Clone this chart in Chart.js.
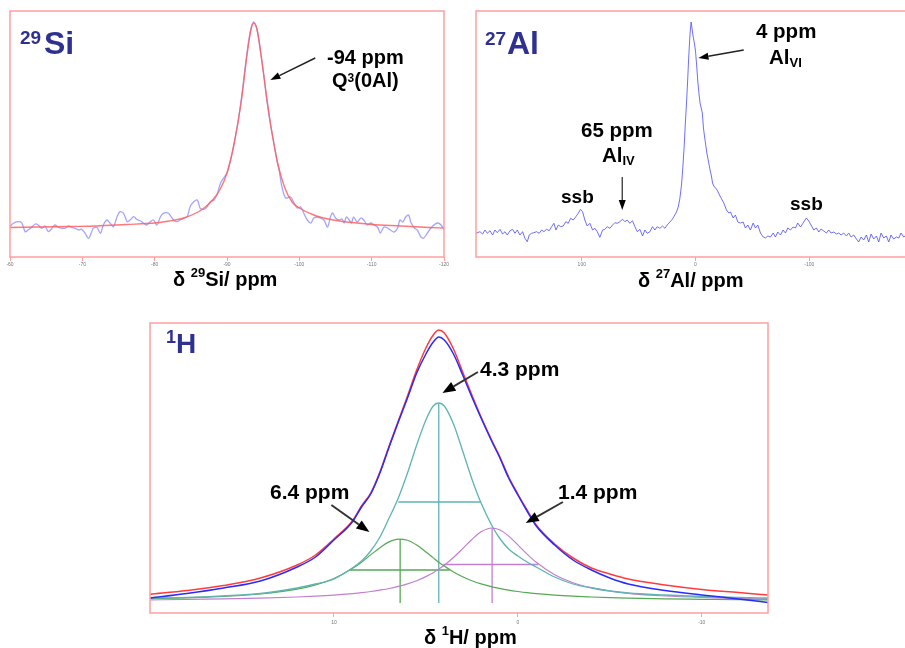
<!DOCTYPE html>
<html>
<head>
<meta charset="utf-8">
<script src="https://cdn.jsdelivr.net/npm/chart.js@4.4.1/dist/chart.umd.min.js"></script>
<style>
  html, body { margin: 0; padding: 0; background: #fff; }
  body { width: 905px; height: 648px; overflow: hidden; position: relative; }
  canvas { position: absolute; }
  .t { position: absolute; font-family: "Liberation Sans", Arial, sans-serif; font-weight: bold;
       line-height: 1; white-space: nowrap; color: #000; }
  .nuc { color: #2e3192; }
  .sup { font-size: 13px; position: relative; top: -3px; vertical-align: top; }
  .sub { font-size: 13px; position: relative; top: 3px; }
</style>
</head>
<body>
<canvas id="siChart" width="460" height="282" style="left:0;top:0"></canvas>
<canvas id="alChart" width="459" height="282" style="left:466px;top:0"></canvas>
<canvas id="hChart" width="640" height="330" style="left:140px;top:310px"></canvas>

<!-- 29Si panel text -->
<div class="t nuc" style="left:20px;top:28px;font-size:19px">29</div>
<div class="t nuc" style="left:44px;top:27px;font-size:32px">Si</div>
<div class="t" style="left:327px;top:47px;font-size:20px">-94 ppm</div>
<div class="t" style="left:332px;top:70px;font-size:20px">Q<span style="font-size:12px;position:relative;top:2px;vertical-align:top">3</span>(0Al)</div>
<div class="t" style="left:173px;top:269px;font-size:20px">&delta; <span class="sup">29</span>Si/ ppm</div>

<!-- 27Al panel text -->
<div class="t nuc" style="left:485px;top:29px;font-size:19px">27</div>
<div class="t nuc" style="left:507px;top:27px;font-size:32px">Al</div>
<div class="t" style="left:756px;top:21px;font-size:20.5px">4 ppm</div>
<div class="t" style="left:769px;top:47px;font-size:20.5px">Al<span class="sub">VI</span></div>
<div class="t" style="left:581px;top:120px;font-size:20.5px">65 ppm</div>
<div class="t" style="left:602px;top:145px;font-size:20.5px">Al<span class="sub">IV</span></div>
<div class="t" style="left:561px;top:187px;font-size:19px">ssb</div>
<div class="t" style="left:790px;top:194px;font-size:19px">ssb</div>
<div class="t" style="left:638px;top:270px;font-size:20px">&delta; <span class="sup">27</span>Al/ ppm</div>

<!-- 1H panel text -->
<div class="t nuc" style="left:166px;top:328px;font-size:18px">1</div>
<div class="t nuc" style="left:176px;top:330px;font-size:28px">H</div>
<div class="t" style="left:480px;top:358px;font-size:21px">4.3 ppm</div>
<div class="t" style="left:270px;top:481px;font-size:21px">6.4 ppm</div>
<div class="t" style="left:558px;top:481px;font-size:21px">1.4 ppm</div>
<div class="t" style="left:424px;top:627px;font-size:20px">&delta; <span class="sup">1</span>H/ ppm</div>

<script>
// ---- 29Si spectrum (ppm, arbitrary intensity) ----
const siShift = [-60,-60.46,-61.15,-61.6,-62.1,-62.5,-63,-63.5,-63.9,-64.4,
  -64.85,-65.3,-65.8,-66.2,-66.7,-67.2,-67.6,-68.1,-68.5,-69,
  -69.5,-69.9,-70.4,-70.85,-71.3,-71.5,-72,-72.5,-72.9,-73.4,
  -73.85,-74.3,-74.8,-75.2,-75.7,-76.2,-76.6,-77.1,-77.5,-78,
  -78.5,-78.9,-79.4,-79.85,-80.3,-80.8,-81.2,-81.9,-82.6,-83.1,
  -83.5,-84,-84.5,-84.9,-85.4,-85.9,-86.3,-86.8,-87.2,-87.7,
  -88.2,-88.6,-89.1,-89.5,-90,-90.5,-91,-91.5,-92,-92.5,
  -93,-93.4,-93.7,-94.1,-94.5,-95,-95.5,-96,-96.5,-97,
  -97.2,-97.6,-98.1,-98.8,-99.2,-99.7,-100.2,-100.6,-101.1,-101.6,
  -102,-102.5,-102.9,-103.4,-103.9,-104.3,-104.6,-105,-105.5,-105.9,
  -106.2,-106.5,-106.9,-107.2,-107.5,-108,-108.5,-108.9,-109.4,-109.9,
  -110.3,-110.8,-111.2,-111.7,-112.2,-112.6,-113.1,-113.6,-113.9,-114.3,
  -114.7,-115.1,-115.4,-115.9,-116.3,-116.8,-117.2,-117.7,-118.2,-118.6,
  -119.1,-119.6,-120];
const siIntensity = [1.3,4.7,6.3,5.3,-3.7,-2,0.7,4,3,-0.3,
  2,-3.7,-0.3,3,0.7,-0.3,-0.3,2,0.7,-0.3,
  -2,-1.3,-5.3,-10.3,-3.7,-0.3,0.7,-5.3,3,8,
  4.7,1.3,11.3,16.3,14.7,6.3,8,11.3,8.7,7.3,
  4.7,3,6.3,8,3,11.3,14.7,14.7,8,6.3,
  8,9.7,11.3,21.3,26.3,28,19.7,18.7,20.7,26.3,
  28,33,44.7,49.7,55,68,85,105,130,160,
  187,202,206,200,183,158,128,104,84,64,
  58,41,30,31,26,20,21,15,8,5,
  10,11,10,8,1,11,15,10,8,9,
  5,11,8,5,11,6,10,8,3,5,
  3,1,-5,1,0,-2,-4,0,8,6,
  11,13,6,0,-2,-9,-10,-5,0,3,
  5,3,-2];
const siFitShift = [-60,-64,-68,-72,-76,-80,-82,-84,-86,-87,-88,-89,-90,-91,-92,-92.8,-93.3,-93.7,
  -94.2,-94.8,-95.5,-96,-97,-98,-99,-100,-102,-104,-106,-108,-110,-114,-118,-120];
const siFitIntensity = [0.5,1,1.5,2,3.5,5,7,10,16,21,28,38,55,85,128,175,198,205,
  197,168,130,105,65,40,26,20,13,9,6.5,5,3.5,2,0.5,0];
const siTicks = [-60,-70,-80,-90,-100,-110,-120];

// ---- 27Al spectrum ----
const alShift = [193,189.5,187.2,185.1,183.1,180.7,178.4,176.3,174.3,171.9,
  169.6,167.5,165.5,163.1,160.8,158.8,156.7,154.4,152,150,
  147.9,146.2,144.1,142.1,139.7,137.4,135.3,133.3,130.9,128.6,
  126.5,124.5,122.7,120.7,118.6,116.3,114,111.9,109.8,107.5,
  105.2,103.1,101.1,99.3,97.3,95.2,92.9,90.5,88.5,86.4,
  84.1,81.7,79.7,77.6,75.3,72.9,70.9,68.8,66.5,64.1,
  62.1,60,57.7,55.4,53.3,51.2,48.9,46.6,44.5,42.5,
  40.1,37.8,35.7,33.7,31.3,29,26.9,24.9,22.5,20.2,
  18.2,16.7,15.2,13.8,12.3,11,10,9,8,7,
  6,5,4.3,3.8,3,2,1,0,-1,-2,
  -3,-4,-5,-6,-7,-8,-9,-10,-11,-12,
  -13,-14,-15,-16.1,-19,-22,-24.9,-27.2,-29.3,-30.8,
  -33.1,-35.1,-37.2,-39.5,-41.9,-43.9,-46,-48.3,-50.7,-52.7,
  -54.8,-57.1,-59.5,-61.5,-63.6,-65.9,-68.3,-70.3,-72.3,-74.7,
  -77,-79.1,-81.1,-83.5,-85.8,-87.9,-89.9,-92.3,-95.2,-97.5,
  -99.6,-101.6,-104,-106.3,-108.4,-110.4,-112.8,-115.1,-117.2,-119.2,
  -121.6,-123.9,-126,-128,-130.3,-132.7,-134.7,-136.8,-139.1,-141.5,
  -143.5,-145.6,-147.9,-150.3,-152.3,-154.4,-156.7,-159.1,-161.1,-163.2,
  -165.5,-167.8,-169.9,-171.9,-174.3,-176.6,-178.7,-180.7,-183.1,-185.5,
  -188,-190.5,-193];
const alIntensity = [-0.3,1.3,-1,3,-0.3,2.3,-2,3,0.3,3.7,
  -1,1.3,-2,2.3,3.7,-0.3,3,-2,1.3,-5.3,
  -8.7,-2,-0.3,0.3,1.3,-0.3,3,1.3,3.7,2.3,
  6.3,9.7,3,8,6.3,7,11.3,9.7,14.7,13,
  16.3,19.7,23.7,21.3,13,7,9.7,3,4.7,1.3,
  -4.3,3,3.7,6.3,4.7,8,10.3,9.7,11.3,13.7,
  11.3,13,9.7,12.3,6.3,1.3,3.7,-3,3,-0.3,
  1.3,6.3,3,6.3,4.7,7,4.7,8,11,14,
  18,21,26,34,48,68,86,108,128,150,
  175,196,206,211,204,196,190,182,168,152,
  140,130,125,120,105,96,88,80,74,68,
  62,57,50,47,43,36,30,23,20,21,
  15,18,11,10,11,5,8,3,10,5,
  8,0,-4,-5,-3,-4,0,-4,1,-2,
  3,0,5,3,6,5,10,6,11,15,
  12,8,3,5,1,4,2,0,3,0,
  1,-1,0,-2,0,-3,0,-4,-2,-6,
  -9,-4,-7,-2,-9,-1,-6,-3,-9,0,
  -5,-3,-9,-2,-6,-4,-5,0,-4,-2,
  -5,-1,-3];
const alTicks = [100,0,-100];

// ---- 1H spectrum and its three fitted components ----
const hShift = [20,18,16,14,12,11,10,9,8.5,8,7.5,7,6.5,6,5.5,5,4.6,4.3,4,3.5,
  3,2.5,2,1.4,1,0.5,0,-0.5,-1,-2,-3,-4,-5,-6,-8,-10,-12,-13.6];
const hFit = [6.7,10.5,15.5,23,36,46,62,80,95,108,129,155,180,205,231,253,266,271,268,252,
  229,206,184,160,145,124,107,91,76,57,43,33,27,22,16,11.5,8.5,6];
const hExp = [3,7.5,13,20,34,44,61,79,94,107,128,154,179,203,228,247,259,264,261,247,
  226,204,183,159,144,123,106,90,75,56,41,31,23,17,10.5,6,2,-1.5];
const hComp43 = [2.8,3.6,5.2,7.5,13,17,22,33,40,50,64,83,103,128,156,181,195,198,195,177,
  150,122,98,75,63,52,45,39,34,24,17,13,10,8,6,4.5,3.5,3];
const hComp64 = [2.4,3.2,4.6,7,11.8,16.1,22.5,32.4,38.8,46.1,53.3,59.1,61.9,60.7,55.9,49,43.1,38.8,34.9,29,
  24.2,20.3,17.1,14.2,12.6,10.9,9.5,8.3,7.4,5.9,4.8,4,3.3,2.8,2.1,1.7,1.3,1.1];
const hComp14 = [1,1.7,2.2,2.9,4,4.8,5.9,7.4,8.3,9.5,10.9,12.5,14.6,17.1,20.3,24.4,28.3,31.9,35.8,43.5,
  52.4,61.5,69.2,73,71.2,64.9,56.1,46.9,38.7,26.3,18.3,13.3,10,7.7,5,3.5,2.6,2.05];
// component centre, height, and half-height width marks
const hPeakPos = [4.3, 6.4, 1.4];
const hPeakTop = [198, 62, 73];
const hHalfFrom = [6.5, 9.15, 4.05];
const hHalfTo = [2.0, 3.7, -1.1];
const hHalfLevel = [99, 31, 36.5];
const hTicks = [10, 0, -10];

const PINK = '#ff9e9e';

function drawArrow(ctx, x1, y1, x2, y2, a) {
  const ang = Math.atan2(y2 - y1, x2 - x1);
  const bx = x2 - a.head * Math.cos(ang), by = y2 - a.head * Math.sin(ang);
  ctx.strokeStyle = a.color;
  ctx.lineWidth = a.lw;
  ctx.beginPath(); ctx.moveTo(x1, y1); ctx.lineTo(bx, by); ctx.stroke();
  ctx.fillStyle = '#000';
  ctx.beginPath();
  ctx.moveTo(x2, y2);
  ctx.lineTo(bx + a.width / 2 * Math.sin(ang), by - a.width / 2 * Math.cos(ang));
  ctx.lineTo(bx - a.width / 2 * Math.sin(ang), by + a.width / 2 * Math.cos(ang));
  ctx.closePath(); ctx.fill();
}

// frame around the plot area + annotation arrows (arrow ends in data units)
const framePlugin = {
  id: 'frame',
  afterDatasetsDraw(chart, args, opts) {
    const { ctx, chartArea: a, scales: { x, y } } = chart;
    ctx.save();
    ctx.strokeStyle = PINK;
    ctx.lineWidth = 1.5;
    ctx.strokeRect(a.left, a.top, a.right - a.left, a.bottom - a.top);
    (opts.arrows || []).forEach((ar) => {
      drawArrow(ctx, x.getPixelForValue(ar.from[0]), y.getPixelForValue(ar.from[1]),
        x.getPixelForValue(ar.to[0]), y.getPixelForValue(ar.to[1]), ar);
    });
    ctx.restore();
  }
};

function series(xs, ys, color, width, smooth) {
  return {
    data: xs.map((x, i) => ({ x: x, y: ys[i] })),
    showLine: true,
    borderColor: color,
    borderWidth: width,
    pointRadius: 0,
    fill: false,
    tension: smooth === 'noisy' ? 0.3 : 0,
    cubicInterpolationMode: smooth === true ? 'monotone' : 'default'
  };
}

function makeChart(id, datasets, o) {
  return new Chart(document.getElementById(id), {
    type: 'scatter',
    data: { datasets: datasets },
    plugins: [framePlugin],
    options: {
      responsive: false,
      animation: false,
      devicePixelRatio: 1,
      layout: { autoPadding: false, padding: { left: o.padL, right: o.padR, top: o.padT, bottom: 0 } },
      plugins: { legend: { display: false }, tooltip: { enabled: false }, frame: { arrows: o.arrows } },
      scales: {
        x: {
          type: 'linear', reverse: true, min: o.xMin, max: o.xMax,
          afterBuildTicks: (s) => { s.ticks = o.ticks.map((v) => ({ value: v })); },
          afterFit: (s) => { s.height = o.axisH; },
          ticks: { font: { size: 5, family: 'Liberation Sans' }, color: '#777', padding: o.tickPad,
                   maxRotation: 0, autoSkip: false },
          grid: { drawOnChartArea: false, tickLength: 4, color: PINK, lineWidth: 1 },
          border: { display: false }
        },
        y: { display: false, min: o.yMin, max: o.yMax }
      }
    }
  });
}

// 29Si
makeChart('siChart', [
  series(siFitShift, siFitIntensity, 'rgba(255,95,95,0.85)', 1.4, true),
  series(siShift, siIntensity, 'rgba(90,90,255,0.55)', 1.3, 'noisy')
], {
  padL: 10, padR: 16, padT: 11, axisH: 25, tickPad: 1,
  xMin: -120, xMax: -60, yMin: -29, yMax: 217, ticks: siTicks,
  arrows: [{ from: [-102.2, 170], to: [-96.0, 148], head: 10, width: 7, lw: 1.4, color: '#222' }]
});

// 27Al
makeChart('alChart', [
  series(alShift, alIntensity, 'rgba(85,85,255,0.85)', 1, false)
], {
  padL: 10, padR: 10, padT: 11, axisH: 25, tickPad: 1,
  xMin: -193, xMax: 193, yMin: -24, yMax: 222, ticks: alTicks,
  arrows: [
    { from: [-42.4, 183], to: [-2.6, 175], head: 10, width: 7, lw: 1.4, color: '#222' },
    { from: [64.4, 56], to: [64.4, 23], head: 10, width: 7, lw: 1.4, color: '#444' }
  ]
});

// 1H
const hMarks = [];
const markColors = ['#5fb3b3', '#55a855', '#c27fd1'];
hPeakPos.forEach((p, i) => {
  hMarks.push(series([p, p], [-2, hPeakTop[i]], markColors[i], 1.3, false));
  hMarks.push(series([hHalfFrom[i], hHalfTo[i]], [hHalfLevel[i], hHalfLevel[i]], markColors[i], 1.6, false));
});
makeChart('hChart', [
  series(hShift, hExp, '#2a2aff', 1.5, true),
  series(hShift, hFit, '#ff3b3b', 1.5, true),
  series(hShift, hComp43, '#5fb3b3', 1.3, true),
  series(hShift, hComp64, '#55a855', 1.2, true),
  series(hShift, hComp14, '#c27fd1', 1.2, true)
].concat(hMarks), {
  padL: 10, padR: 12, padT: 13, axisH: 27, tickPad: 3,
  xMin: -13.6, xMax: 20, yMin: -12, yMax: 278, ticks: hTicks,
  arrows: [
    { from: [2.17, 229], to: [4.1, 208], head: 13, width: 10, lw: 2, color: '#333' },
    { from: [10.14, 96], to: [8.07, 69], head: 13, width: 10, lw: 2, color: '#333' },
    { from: [-2.45, 99], to: [-0.43, 78], head: 13, width: 10, lw: 2, color: '#333' }
  ]
});
</script>
</body>
</html>
